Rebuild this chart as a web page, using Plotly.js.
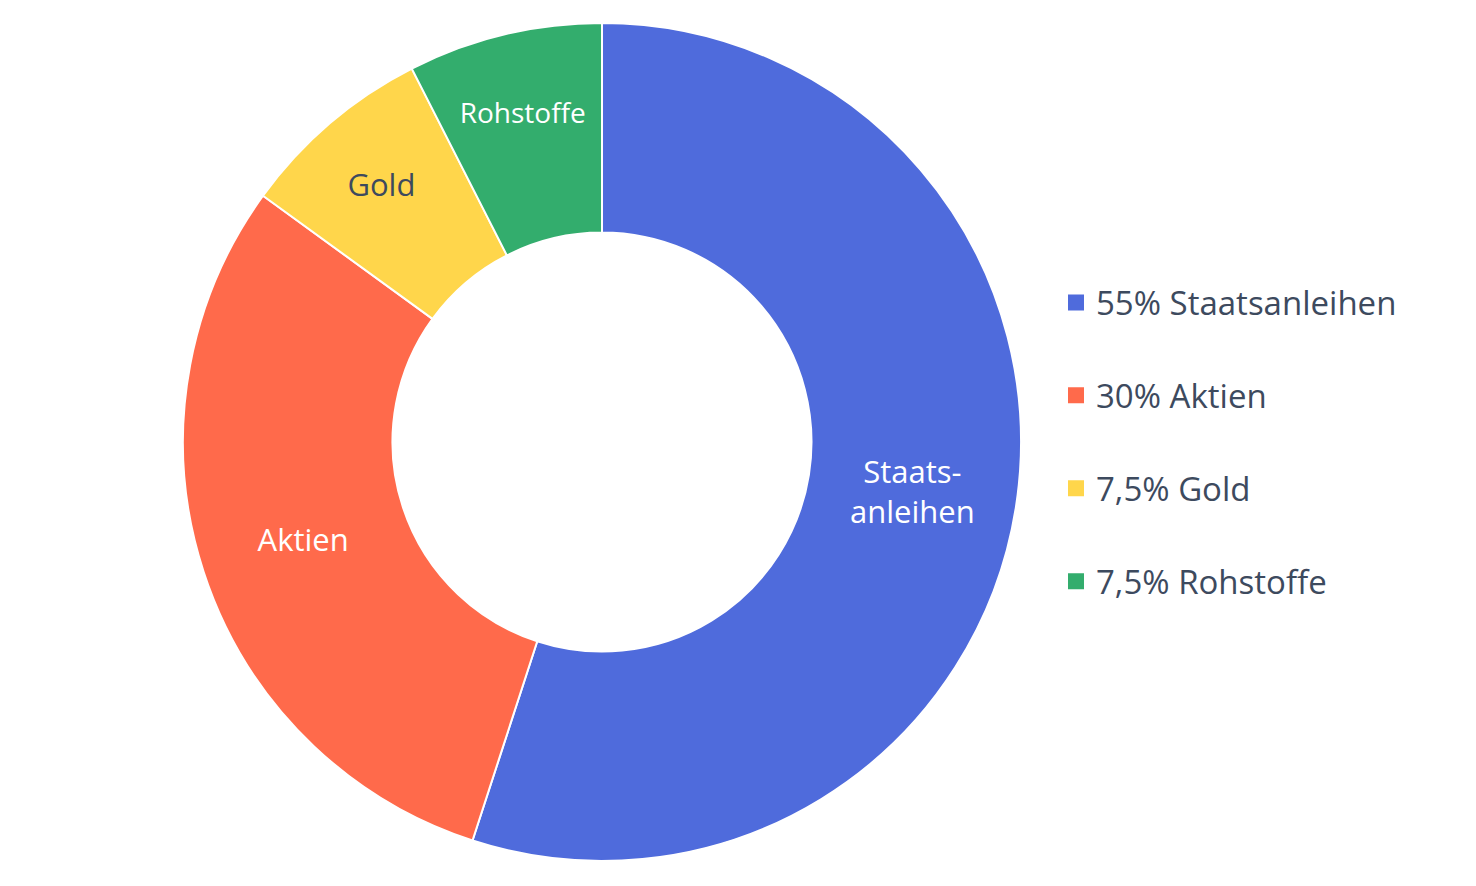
<!DOCTYPE html>
<html>
<head>
<meta charset="utf-8">
<script src="https://cdn.plot.ly/plotly-3.0.1.min.js"></script>
<style>html,body{margin:0;padding:0;background:#fff;}#chart{width:1476px;height:886px;}</style>
</head>
<body>
<div id="chart"></div>
<script>
const categories = ["Staatsanleihen", "Aktien", "Gold", "Rohstoffe"];
const values = [55, 30, 7.5, 7.5];
const sliceLabels = ["Staats-<br>anleihen", "Aktien", "Gold", "Rohstoffe"];
const legendLabels = ["55% Staatsanleihen", "30% Aktien", "7,5% Gold", "7,5% Rohstoffe"];
const colors = ["#4F6BDC", "#FF6A4B", "#FFD64B", "#33AD6D"];
const labelColors = ["#ffffff", "#ffffff", "#3D4A5E", "#ffffff"];
const labelSizes = [31, 31, 31, 28];

const FONT = "'Open Sans', 'Noto Sans', sans-serif";
const W = 1476;

const traces = [{
  type: "pie",
  labels: categories,
  values: values,
  text: sliceLabels,
  textinfo: "text",
  textposition: "inside",
  insidetextorientation: "horizontal",
  insidetextfont: {family: FONT, size: labelSizes, color: labelColors},
  hole: 0.5,
  sort: false,
  direction: "clockwise",
  rotation: 0,
  marker: {colors: colors, line: {color: "#ffffff", width: 2}},
  domain: {x: [183 / W, 1021 / W], y: [0, 1]},
  showlegend: false,
  hoverinfo: "label+percent"
}];

legendLabels.forEach((name, i) => {
  traces.push({
    type: "scatter",
    mode: "markers",
    x: [null], y: [null],
    name: name,
    legendgroup: "g" + i,
    marker: {symbol: "square", size: 17, color: colors[i]},
    showlegend: true,
    hoverinfo: "skip"
  });
});

const layout = {
  width: 1476, height: 886,
  margin: {l: 0, r: 0, t: 23, b: 25},
  paper_bgcolor: "#ffffff",
  plot_bgcolor: "#ffffff",
  font: {family: FONT, color: "#3D4A5E"},
  xaxis: {visible: false},
  yaxis: {visible: false},
  showlegend: true,
  legend: {
    x: 1056 / W, xanchor: "left",
    y: 0.5, yanchor: "middle",
    font: {family: FONT, size: 33, color: "#3D4A5E"},
    traceorder: "grouped",
    tracegroupgap: 47,
    itemwidth: 30,
    bgcolor: "rgba(0,0,0,0)"
  }
};

Plotly.newPlot("chart", traces, layout, {displayModeBar: false, staticPlot: true});
</script>
</body>
</html>
